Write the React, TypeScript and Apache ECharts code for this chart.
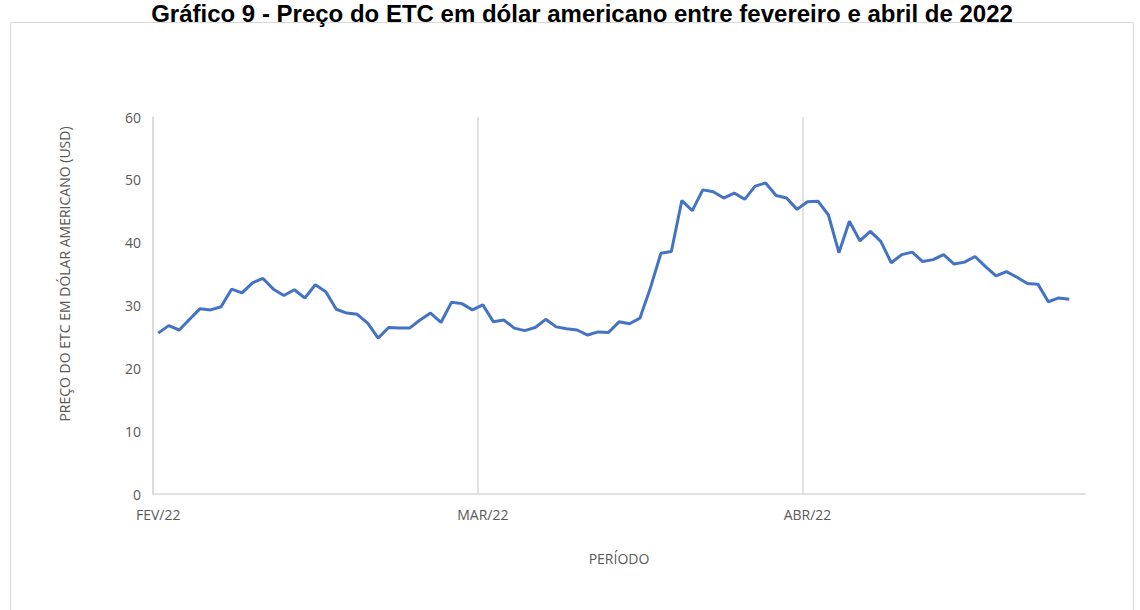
import React, { useEffect, useRef } from "react";
import * as echarts from "echarts";

// preço diário do ETC (USD)
const prices = [
  25.6, 26.8, 26.1, 27.8, 29.5, 29.3, 29.8, 32.6, 32.0, 33.6, 34.3, 32.6, 31.6, 32.5, 31.2, 33.3, 32.2, 29.4, 28.8, 28.6, 27.2, 24.8,
  26.5, 26.4, 26.4, 27.7, 28.8, 27.3, 30.5, 30.3, 29.3, 30.1, 27.4, 27.7, 26.4, 26.0, 26.5, 27.8, 26.6, 26.3, 26.1, 25.3, 25.8, 25.7,
  27.4, 27.1, 28.0, 32.8, 38.3, 38.6, 46.7, 45.1, 48.4, 48.1, 47.1, 47.9, 46.9, 49.0, 49.5, 47.5, 47.1, 45.3, 46.5, 46.6, 44.4, 38.4,
  43.4, 40.3, 41.8, 40.2, 36.8, 38.1, 38.5, 37.0, 37.3, 38.1, 36.6, 36.9, 37.8, 36.2, 34.7, 35.4, 34.5, 33.5, 33.4, 30.6, 31.2, 31.0,
  null
];
const monthLabels = ["FEV/22", "MAR/22", "ABR/22"];
const daysPerLabel = 31;
const categories = prices.map((_, i) => String(i));

const title = "Gráfico 9 - Preço do ETC em dólar americano entre fevereiro e abril de 2022";
const yName = "PREÇO DO ETC EM DÓLAR AMERICANO (USD)";
const xName = "PERÍODO";

const gray = "#d9d9d9";
const labelColor = "#595959";
const font = "'Open Sans', sans-serif";

export default function App() {
  const ref = useRef<HTMLDivElement>(null);

  useEffect(() => {
    const chart = echarts.init(ref.current, null, { renderer: "svg" });
    chart.setOption({
      animation: false,
      backgroundColor: "#fff",
      textStyle: { fontFamily: font },
      graphic: [
        {
          type: "rect",
          shape: { x: 10.5, y: 22.5, width: 1123, height: 600 },
          style: { fill: "none", stroke: gray, lineWidth: 1 },
          silent: true
        },
        {
          type: "text",
          x: 582,
          y: 1,
          style: {
            text: title,
            fill: "#000",
            font: "bold 24px 'Liberation Sans', Arial, sans-serif",
            align: "center",
            verticalAlign: "top"
          }
        },
        {
          type: "text",
          x: 64,
          y: 274,
          rotation: Math.PI / 2,
          style: {
            text: yName,
            fill: labelColor,
            font: "14px 'Open Sans', sans-serif",
            align: "center",
            verticalAlign: "middle"
          }
        }
      ],
      grid: { left: 153, right: 55, top: 117, bottom: 116 },
      xAxis: {
        type: "category",
        data: categories,
        boundaryGap: true,
        name: xName,
        nameLocation: "middle",
        nameGap: 57,
        nameTextStyle: { color: labelColor, fontSize: 14 },
        axisLine: { lineStyle: { color: gray, width: 1.5 } },
        axisTick: { show: false, interval: daysPerLabel - 1 },
        axisLabel: {
          interval: daysPerLabel - 1,
          color: labelColor,
          fontSize: 14,
          margin: 13,
          formatter: (_v: string, i: number) => monthLabels[Math.floor(i / daysPerLabel)] || ""
        },
        splitLine: {
          show: true,
          interval: daysPerLabel - 1,
          showMaxLine: false,
          lineStyle: { color: gray, width: 1.5 }
        }
      },
      yAxis: {
        type: "value",
        min: 0,
        max: 60,
        interval: 10,
        axisLine: { show: true, lineStyle: { color: gray, width: 1.5 } },
        axisTick: { show: false },
        axisLabel: { color: labelColor, fontSize: 14, margin: 12 },
        splitLine: { show: false }
      },
      series: [
        {
          type: "line",
          data: prices,
          symbol: "none",
          lineStyle: { color: "#4472c4", width: 3 },
          itemStyle: { color: "#4472c4" }
        }
      ]
    });
    return () => chart.dispose();
  }, []);

  return (
    <div
      ref={ref}
      style={{ position: "absolute", left: 0, top: 0, width: 1140, height: 610 }}
    />
  );
}
